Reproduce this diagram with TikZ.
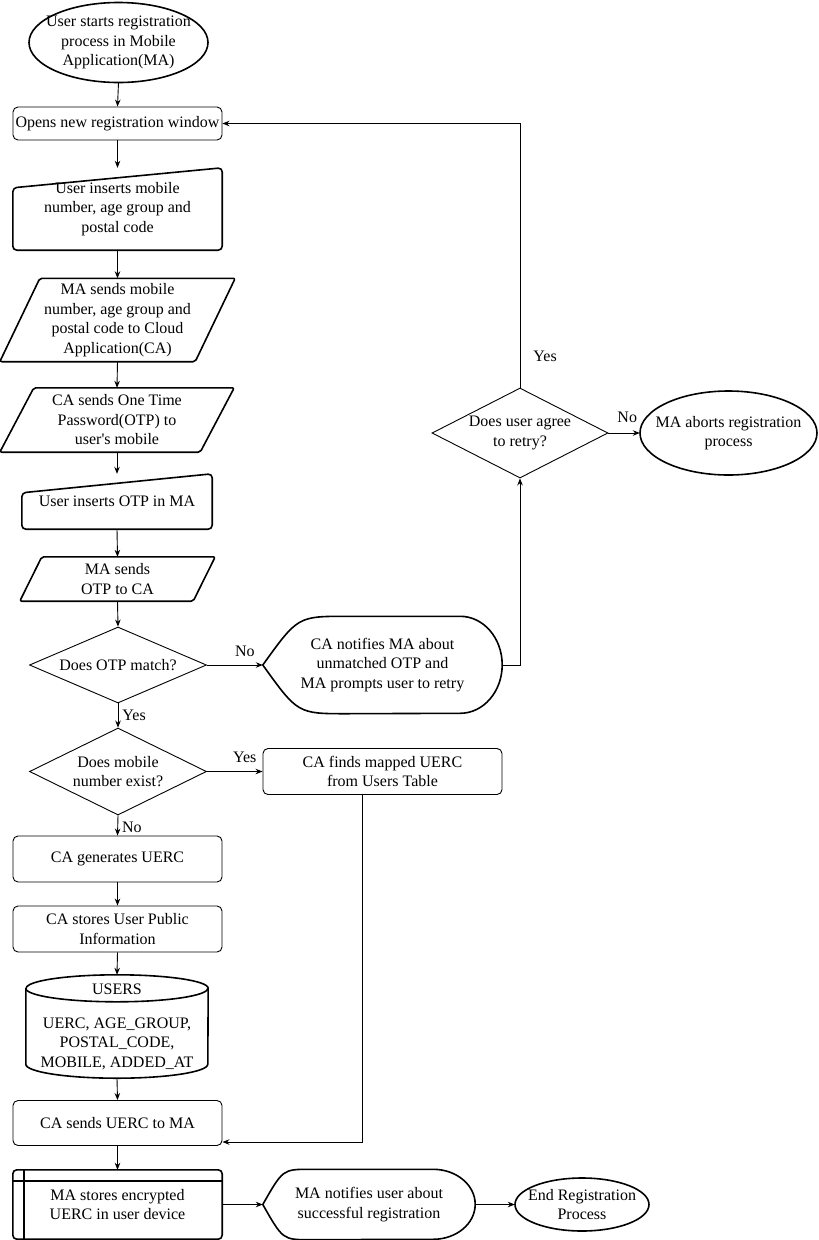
\documentclass[tikz,border=0pt]{standalone}
\usepackage{fontspec}
\setmainfont{Liberation Serif}
\usetikzlibrary{arrows.meta, shapes.geometric, calc}
\tikzset{
    txt/.style={align=center, inner sep=0pt, font=\fontsize{16}{19.5}\selectfont},
    proc/.style={txt, draw, rounded corners=5pt, line width=0.9pt},
    decision/.style={txt, draw, diamond, aspect=2, line width=0.9pt},
    free/.style={txt},
    outline/.style={line width=1.6pt, line join=round},
    arr/.style={-{Stealth[length=7pt, width=5.5pt]}, line width=0.9pt},
    lbl/.style={font=\fontsize{16}{19.5}\selectfont, inner sep=1pt},
}

\begin{document}
\begin{tikzpicture}[x=1pt, y=-1pt]
    \useasboundingbox (0,0) rectangle (819,1240);
    % left column
    \node[free, minimum width=179pt, minimum height=80pt] (start) at (118.5,42.5) {User starts registration\\process in Mobile\\Application(MA)};
    \node[proc, minimum width=209pt, minimum height=33pt] (open) at (117.5,123.5) {Opens new registration window};
    \node[free, minimum width=209pt, minimum height=82pt] (ins1) at (117.5,209) {User inserts mobile\\number, age group and\\postal code};
    \node[free, minimum width=235pt, minimum height=83pt] (para1) at (117.5,320) {MA sends mobile\\number, age group and\\postal code to Cloud\\Application(CA)};
    \node[free, minimum width=234pt, minimum height=64pt] (para2) at (117,420) {CA sends One Time\\Password(OTP) to\\user\textquotesingle s mobile};
    \node[free, minimum width=190pt, minimum height=55pt] (ins2) at (117,501.5) {User inserts OTP in MA};
    \node[free, minimum width=195pt, minimum height=44pt] (para3) at (117.5,579) {MA sends\\OTP to CA};
    \node[decision, minimum width=177pt, minimum height=76pt] (decOTP) at (118,665) {Does OTP match?};
    \node[decision, minimum width=177pt, minimum height=87pt] (decMob) at (118,771.5) {Does mobile\\number exist?};
    \node[proc, minimum width=209pt, minimum height=46pt] (gen) at (117.5,859) {CA generates UERC};
    \node[proc, minimum width=209pt, minimum height=46pt] (store) at (117.5,929) {CA stores User Public\\Information};
    \node[free, minimum width=182pt, minimum height=103pt] (users) at (117,1026.5) {USERS\\[14.5pt]UERC, AGE\_GROUP,\\POSTAL\_CODE,\\MOBILE, ADDED\_AT};
    \node[proc, minimum width=209pt, minimum height=45pt] (sendU) at (117.5,1123) {CA sends UERC to MA};
    \node[free, minimum width=209pt, minimum height=69pt] (keep) at (117.5,1204.5) {MA stores encrypted\\UERC in user device};
    % right side
    \node[free, minimum width=239pt, minimum height=97pt] (notify) at (382.5,665) {CA notifies MA about\\unmatched OTP and\\MA prompts user to retry};
    \node[decision, minimum width=176pt, minimum height=90pt] (retry) at (520,433) {Does user agree\\to retry?};
    \node[free, minimum width=177pt, minimum height=84pt] (abort) at (728.5,433) {MA aborts registration\\process};
    \node[proc, minimum width=239pt, minimum height=46pt] (finds) at (382.5,771.5) {CA finds mapped UERC\\from Users Table};
    \node[free, minimum width=212pt, minimum height=70pt] (notify2) at (369,1204.5) {MA notifies user about\\successful registration};
    \node[free, minimum width=134pt, minimum height=53pt] (finish) at (582,1204.5) {End Registration\\Process};

    % outlines
    \draw[outline] (start.center) ellipse [x radius=89.5pt, y radius=40pt];
    \draw[outline] (abort.center) ellipse [x radius=88.5pt, y radius=42pt];
    \draw[outline] (finish.center) ellipse [x radius=67pt, y radius=26.5pt];
    \draw[outline, rounded corners=4pt] ([yshift=-20pt]ins1.north west) -- (ins1.north east) -- (ins1.south east) -- (ins1.south west) -- cycle;
    \draw[outline, rounded corners=4pt] ([yshift=-19pt]ins2.north west) -- (ins2.north east) -- (ins2.south east) -- (ins2.south west) -- cycle;
    \draw[outline, rounded corners=2pt] (para1.south west) -- ([xshift=40pt]para1.north west) -- (para1.north east) -- ([xshift=-40pt]para1.south east) -- cycle;
    \draw[outline, rounded corners=2pt] (para2.south west) -- ([xshift=34pt]para2.north west) -- (para2.north east) -- ([xshift=-34pt]para2.south east) -- cycle;
    \draw[outline, rounded corners=2pt] (para3.south west) -- ([xshift=22pt]para3.north west) -- (para3.north east) -- ([xshift=-22pt]para3.south east) -- cycle;
    \draw[outline] let \p1=(notify.north west), \p2=(notify.south east) in
        (notify.west) .. controls (\x1+35pt,\y1) .. (\x1+84pt,\y1) -- (\x2-42pt,\y1)
        arc[start angle=90, end angle=-90, x radius=42pt, y radius=48.5pt]
        -- (\x1+84pt,\y2) .. controls (\x1+35pt,\y2) .. (notify.west) -- cycle;
    \draw[outline] let \p1=(notify2.north west), \p2=(notify2.south east) in
        (notify2.west) .. controls (\x1+20pt,\y1) .. (\x1+47pt,\y1) -- (\x2-42pt,\y1)
        arc[start angle=90, end angle=-90, x radius=42pt, y radius=35pt]
        -- (\x1+47pt,\y2) .. controls (\x1+20pt,\y2) .. (notify2.west) -- cycle;
    \draw[outline] ([yshift=-13.5pt]users.north west) -- ([yshift=14pt]users.south west)
        arc[start angle=180, end angle=360, x radius=91pt, y radius=14pt]
        -- ([yshift=-13.5pt]users.north east)
        arc[start angle=0, end angle=180, x radius=91pt, y radius=13.5pt] -- cycle;
    \draw[outline] ([yshift=-13.5pt]users.north west) arc[start angle=180, end angle=360, x radius=91pt, y radius=13.5pt];
    \draw[outline, rounded corners=4pt] (keep.south west) rectangle (keep.north east);
    \draw[outline] ([xshift=11pt]keep.north west) -- ([xshift=11pt]keep.south west);
    \draw[outline] ([yshift=-11pt]keep.north west) -- ([yshift=-11pt]keep.north east);

    % connectors
    \draw[arr] (start.south) -- (open.north);
    \draw[arr] (open.south) -- (ins1.north);
    \draw[arr] (ins1.south) -- (para1.north);
    \draw[arr] (para1.south) -- (para2.north);
    \draw[arr] (para2.south) -- (ins2.north);
    \draw[arr] (ins2.south) -- (para3.north);
    \draw[arr] (para3.south) -- (decOTP.north);
    \draw[arr] (decOTP.east) -- node[lbl, above=7pt, pos=0.68] {No} (notify.west);
    \draw[arr] (notify.east) -| (retry.south);
    \draw[arr] (retry.north) |- node[lbl, right=12pt, pos=0.06] {Yes} (open.east);
    \draw[arr] (retry.east) -- node[lbl, above=9pt, pos=0.6] {No} (abort.west);
    \draw[arr] (decOTP.south) -- node[lbl, right=3pt, pos=0.5] {Yes} (decMob.north);
    \draw[arr] (decMob.east) -- node[lbl, above=7pt, pos=0.68] {Yes} (finds.west);
    \draw[arr] (decMob.south) -- node[lbl, right=3pt, pos=0.6] {No} (gen.north);
    \draw[arr] (gen.south) -- (store.north);
    \draw[arr] (store.south) -- (users.north);
    \draw[arr] (users.south) -- (sendU.north);
    \draw[arr] ([xshift=-20.5pt]finds.south) |- ([yshift=-19pt]sendU.east);
    \draw[arr] (sendU.south) -- (keep.north);
    \draw[arr] (keep.east) -- (notify2.west);
    \draw[arr] (notify2.east) -- (finish.west);
\end{tikzpicture}
\end{document}
